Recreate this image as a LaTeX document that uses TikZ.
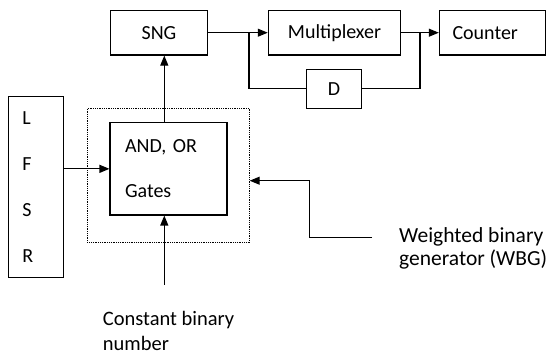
\documentclass[tikz,border=0pt]{standalone}
\usepackage{fontspec}
\setmainfont{Carlito}
\usetikzlibrary{arrows.meta}
\begin{document}
\frenchspacing
\begin{tikzpicture}[x=1pt,y=-1pt,
  font=\fontsize{20}{24}\selectfont,
  blk/.style={draw, line width=1.1pt, inner sep=0pt, anchor=center},
  arr/.style={line width=1.1pt, -{Triangle[length=10pt,width=8pt]}},
  ln/.style={line width=1.1pt},
  lbl/.style={align=left, inner sep=0pt, anchor=north west}]
\useasboundingbox (0,0) rectangle (546,355);
% blocks
\node[blk, minimum width=96.6pt, minimum height=44.7pt] (sng) at (159,32.7) {SNG};
\node[blk, minimum width=132.4pt, minimum height=44.7pt] (mux) at (334.5,32.7) {Multiplexer};
\node[blk, minimum width=106.3pt, minimum height=44.7pt, text width=80pt, inner xsep=13pt,
      align=left] (cnt) at (492.5,32.7) {Counter};
\node[blk, minimum width=55.4pt, minimum height=39pt] (d) at (334,88.8) {D};
\node[blk, minimum height=181pt, text width=27pt, inner xsep=14pt, align=left,
      font=\fontsize{20}{45.8}\selectfont] (lfsr) at (35.8,187.2) {L\\F\\S\\R};
\node[blk, minimum height=92.3pt, text width=87pt, inner xsep=15pt, align=left,
      font=\fontsize{20}{45.3}\selectfont] (gates) at (168.5,168.85) {AND, OR\\Gates};
\node[draw, densely dotted, line width=0.8pt, minimum width=162pt, minimum height=134.4pt,
      inner sep=0pt] (dot) at (168.3,175.5) {};
% labels
\node[lbl, font=\fontsize{21.5}{23}\selectfont] (wbg) at (399,227.5) {Weighted binary\\generator (WBG)};
\node[lbl, font=\fontsize{20.5}{25}\selectfont] (cbn) at (102.7,310.8) {Constant binary\\number};
% coordinates
\coordinate (j1) at (249,32.7);
\coordinate (j2) at (420,32.7);
\coordinate (wbgend) at (372,237.5);
\coordinate (wb) at (309.5,180.7);
\coordinate (cst) at (164.3,285);
% connectors
\draw[arr] (gates.west -| lfsr.east) -- (gates.west);
\draw[arr] ([xshift=-4.2pt]gates.north) -- ([xshift=-4.2pt]gates.north |- sng.south);
\draw[arr] (sng.east) -- (mux.west);
\draw[ln] (j1) |- (d.west);
\draw[ln] (d.east) -| (j2);
\draw[arr] (mux.east) -- (cnt.west);
\draw[arr] (wbgend) -| (wb) -- (wb -| dot.east);
\draw[arr] (cst) -- (cst |- gates.south);
\end{tikzpicture}
\end{document}
